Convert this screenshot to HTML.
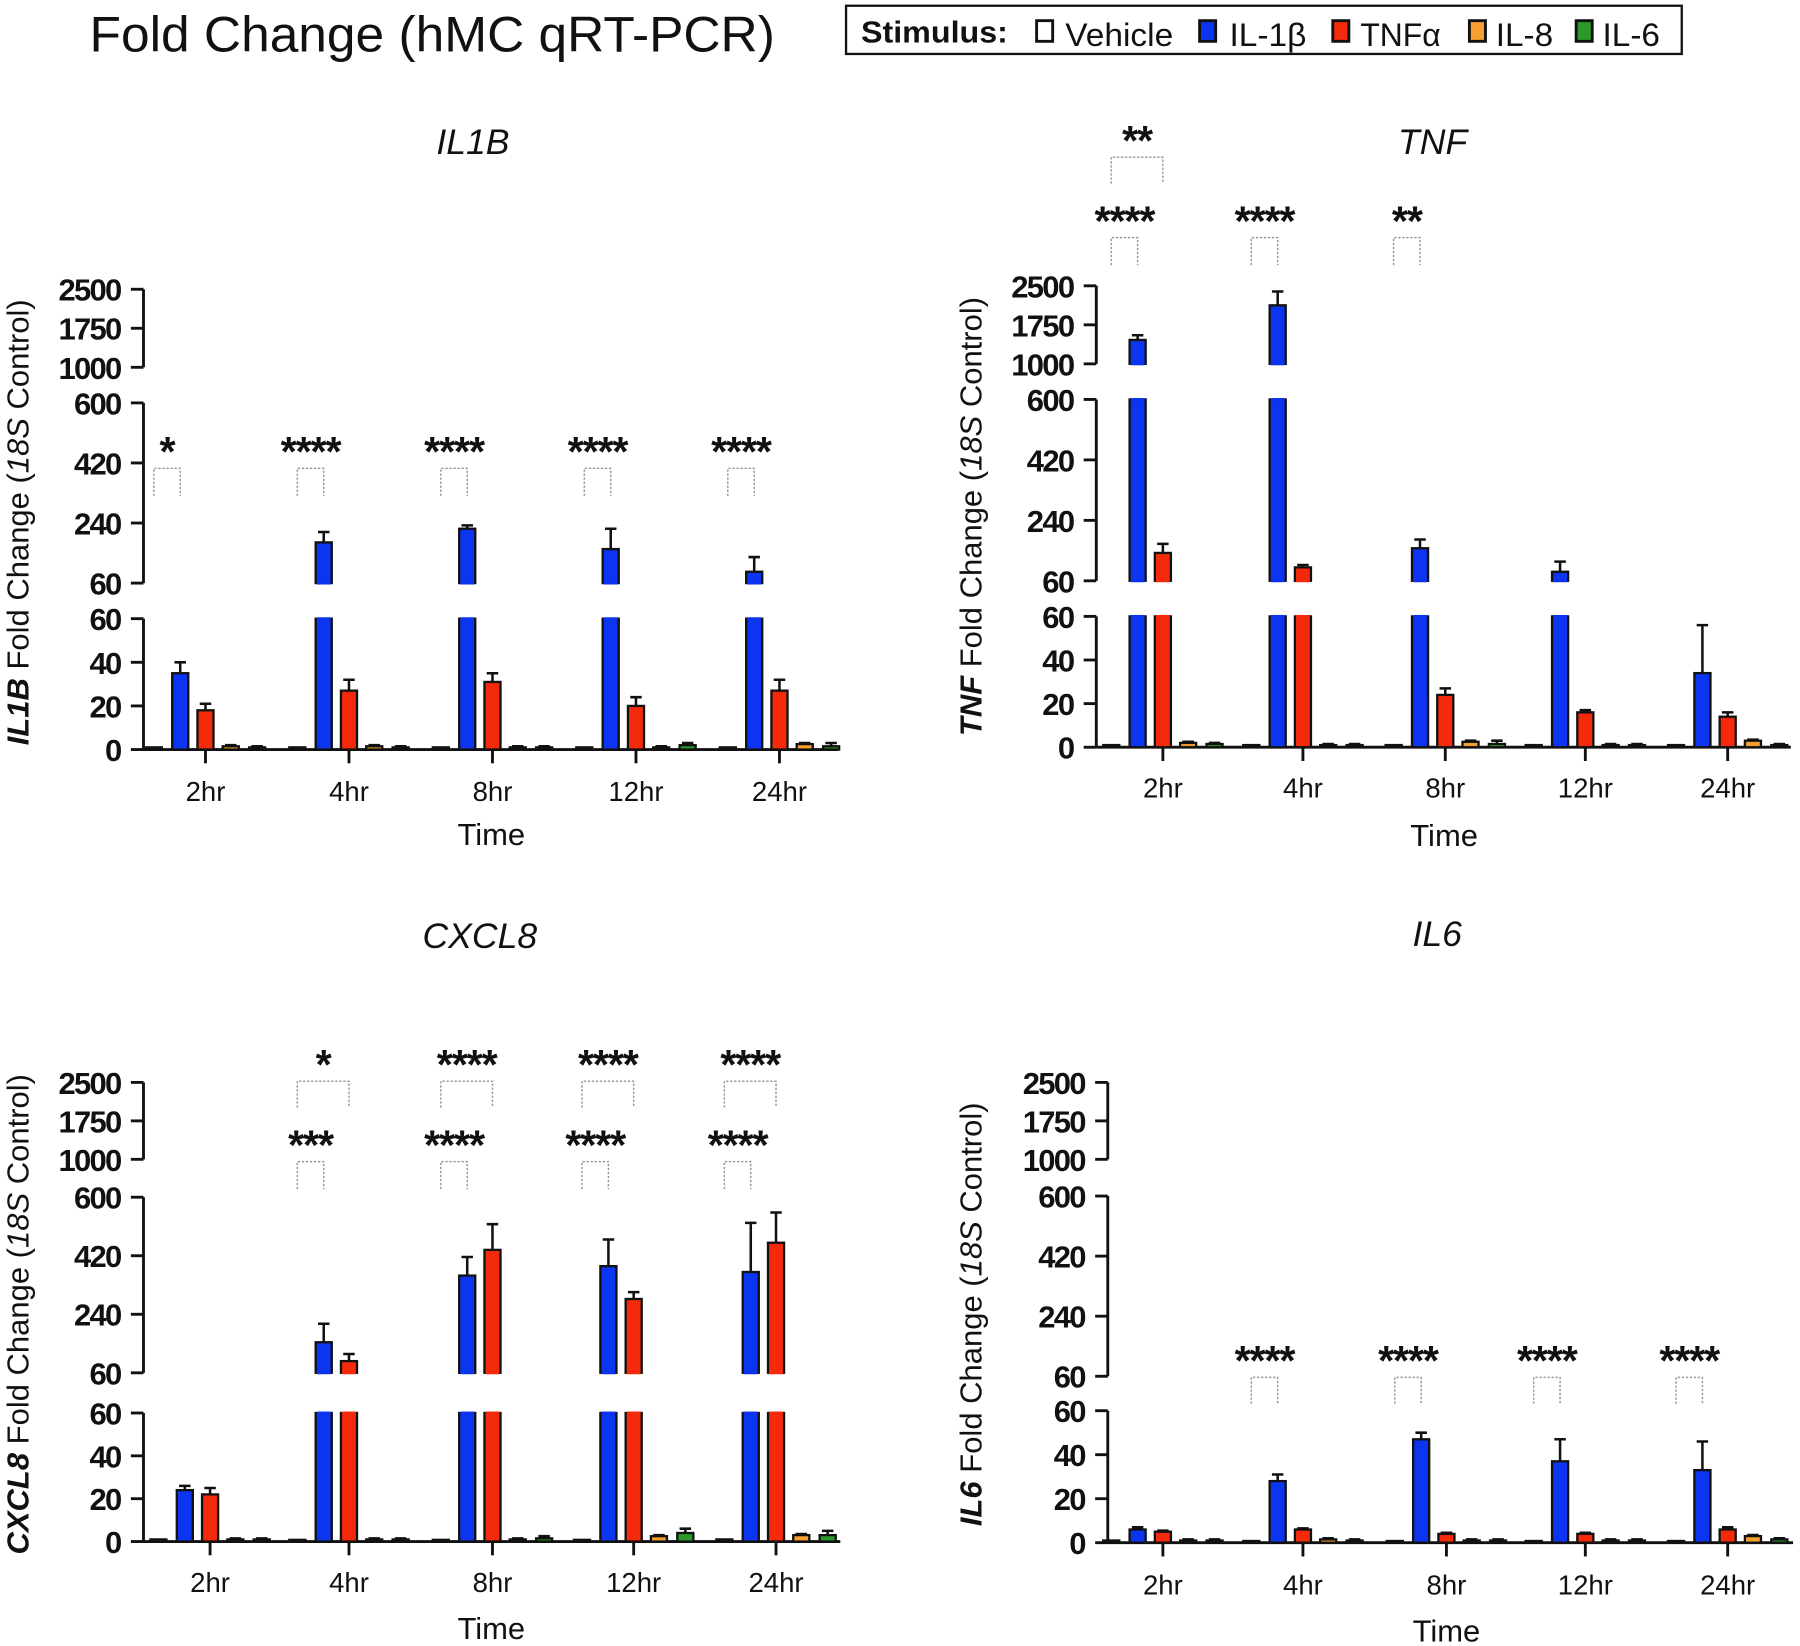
<!DOCTYPE html>
<html><head><meta charset="utf-8"><style>
html,body{margin:0;padding:0;background:#fff;}
svg{display:block;}
text{font-family:"Liberation Sans",Arial,sans-serif;}
</style></head><body>
<svg id="chart" width="1800" height="1646" viewBox="0 0 1568 1434" preserveAspectRatio="none" xmlns="http://www.w3.org/2000/svg">
<text x="78" y="45" font-size="44" fill="#111" textLength="597" lengthAdjust="spacingAndGlyphs">Fold Change (hMC qRT-PCR)</text>
<g>
<rect x="737" y="5" width="728" height="42" fill="#fff" stroke="#111" stroke-width="2"/>
<text x="750" y="37" font-size="27" font-weight="bold" fill="#111" textLength="128" lengthAdjust="spacingAndGlyphs">Stimulus:</text>
<rect x="903" y="18" width="14" height="18" fill="#fff" stroke="#111" stroke-width="2.5"/>
<text x="928" y="40" font-size="28" fill="#111" textLength="94" lengthAdjust="spacingAndGlyphs">Vehicle</text>
<rect x="1045" y="18" width="14" height="18" fill="#0b35f0" stroke="#111" stroke-width="2.5"/>
<text x="1071" y="40" font-size="28" fill="#111" textLength="67" lengthAdjust="spacingAndGlyphs">IL-1β</text>
<rect x="1161" y="18" width="14" height="18" fill="#f52a0a" stroke="#111" stroke-width="2.5"/>
<text x="1185" y="40" font-size="28" fill="#111" textLength="70" lengthAdjust="spacingAndGlyphs">TNFα</text>
<rect x="1280" y="18" width="14" height="18" fill="#f5a030" stroke="#111" stroke-width="2.5"/>
<text x="1303" y="40" font-size="28" fill="#111" textLength="50" lengthAdjust="spacingAndGlyphs">IL-8</text>
<rect x="1373" y="18" width="14" height="18" fill="#2a9a2a" stroke="#111" stroke-width="2.5"/>
<text x="1396" y="40" font-size="28" fill="#111" textLength="50" lengthAdjust="spacingAndGlyphs">IL-6</text>
</g>
</svg>
<script>
const categories = ["2hr","4hr","8hr","12hr","24hr"];
const seriesNames = ["Vehicle","IL-1β","TNFα","IL-8","IL-6"];
const yTickUpper = [1000,1750,2500];
const yTickMid = [60,240,420,600];
const yTickLow = [0,20,40,60];

// IL1B panel
const il1bVehicle = [1,1,1,1,1];
const il1bIL1b = [35,182,223,162,94];
const il1bIL1bErr = [40,213,233,223,138];
const il1bTNFa = [18,27,31,20,27];
const il1bTNFaErr = [21,32,35,24,32];
const il1bIL8 = [1.5,1.5,1,1,2.5];
const il1bIL8Err = [2,2,1.5,1.5,3];
const il1bIL6 = [1,1,1,2,1.5];
const il1bIL6Err = [1.5,1.5,1.5,3,3];

// TNF panel
const tnfVehicle = [1,1,1,1,1];
const tnfIL1b = [1460,2125,157,87,34];
const tnfIL1bErr = [1550,2390,183,117,56];
const tnfTNFa = [143,100,24,16,14];
const tnfTNFaErr = [170,107,27,17,16];
const tnfIL8 = [2,1,2.5,1,3];
const tnfIL8Err = [2.5,1.5,3,1.5,3.5];
const tnfIL6 = [1.5,1,1.5,1,1];
const tnfIL6Err = [2,1.5,3,1.5,1.5];

// CXCL8 panel
const cxclVehicle = [1,0.5,0.5,0.5,1];
const cxclIL1b = [24,154,359,388,370];
const cxclIL1bErr = [26,211,416,470,521];
const cxclTNFa = [22,96,438,287,460];
const cxclTNFaErr = [25,118,517,308,553];
const cxclIL8 = [1,1,1,2.5,3];
const cxclIL8Err = [1.5,1.5,1.5,3,3.5];
const cxclIL6 = [1,1,1.5,4,3];
const cxclIL6Err = [1.5,1.5,2.5,6,5];

// IL6 panel
const il6Vehicle = [1,0.5,0.5,0.5,0.5];
const il6IL1b = [6,28,47,37,33];
const il6IL1bErr = [7,31,50,47,46];
const il6TNFa = [5,6,4,4,6];
const il6TNFaErr = [5.5,6.5,4.5,4.5,7];
const il6IL8 = [1,1.5,1,1,3];
const il6IL8Err = [1.5,2,1.5,1.5,3.5];
const il6IL6 = [1,1,1,1,1.5];
const il6IL6Err = [1.5,1.5,1.5,1.5,2];

const colors = ["#ffffff","#0b35f0","#f52a0a","#f5a030","#2a9a2a"];
const NS = "http://www.w3.org/2000/svg";
const svg = document.getElementById('chart');

function mk(tag, attrs, parent){
  const e = document.createElementNS(NS, tag);
  for (const k in attrs) e.setAttribute(k, attrs[k]);
  (parent||svg).appendChild(e);
  return e;
}

function drawPanel(p){
  const g = mk('g', {});
  
  
  const lowY = v => p.low0 + (p.low60 - p.low0) * v / 60;
  const midY = v => p.mid60 + (p.mid600 - p.mid60) * (v - 60) / 540;
  const upY = v => p.up1000 + (p.up2500 - p.up1000) * (v - 1000) / 1500;
  const yOf = v => v <= 60 ? lowY(v) : (v <= 600 ? midY(v) : upY(v));
  const offsets = [-45,-22,0,22,45];
  const bw = 14;
  const t = mk('text', {x:p.titleX, y:p.titleY, 'font-size':31, 'font-style':'italic', 'text-anchor':'middle', fill:'#111'}, g);
  t.textContent = p.gene;
  
  
  const yt = mk('text', {x:0, y:0, 'font-size':27, 'text-anchor':'middle', fill:'#111', transform:`translate(${p.yTitleX},${p.yTitleY}) rotate(-90)`}, g);
  
  
  const s1 = mk('tspan', {'font-weight':'bold','font-style':'italic'}, yt); s1.textContent = p.gene;
  const s2 = mk('tspan', {}, yt); s2.textContent = ' Fold Change  (';
  const s3 = mk('tspan', {'font-style':'italic'}, yt); s3.textContent = '18S';
  const s4 = mk('tspan', {}, yt); s4.textContent = ' Control)';
  const segs = [[yTickUpper, upY],[yTickMid, midY],[yTickLow, lowY]];
  segs.forEach((sg) => {
    const ticks = sg[0], f = sg[1];
    const ax = mk('line', {x1:p.ax, x2:p.ax, y1:f(ticks[0]), y2:f(ticks[ticks.length-1]), stroke:'#111', 'stroke-width':2.5}, g);
    
    
    ticks.forEach(v => {
      mk('line', {x1:p.ax-11, x2:p.ax, y1:f(v), y2:f(v), stroke:'#111', 'stroke-width':2.5}, g);
      const tl = mk('text', {x:p.ax-20, y:f(v)+10, 'font-size':27, 'font-weight':'bold', 'text-anchor':'end', fill:'#111', 'letter-spacing':'-1.5'}, g);
      tl.textContent = v;
      
      
    });
  });
  const xa = mk('line', {x1:p.ax, x2:p.xEnd, y1:p.low0, y2:p.low0, stroke:'#111', 'stroke-width':2.5}, g);
  
  
  categories.forEach((c, i) => {
    const cx = p.centers[i];
    mk('line', {x1:cx, x2:cx, y1:p.low0, y2:p.low0+12, stroke:'#111', 'stroke-width':2.5}, g);
    const xl = mk('text', {x:cx, y:p.tickLabelY+9, 'font-size':24, 'text-anchor':'middle', fill:'#111'}, g);
    xl.textContent = c;
    
    
  });
  const xt = mk('text', {x:p.timeX, y:p.timeY+10, 'font-size':27, 'text-anchor':'middle', fill:'#111'}, g);
  xt.textContent = 'Time';
  
  
  p.series.forEach((vals, si) => {
    vals.forEach((v, i) => {
      const x = p.centers[i] + offsets[si] - bw/2;
      const parts = [];
      parts.push([p.low0, lowY(Math.min(v,60))]);
      if (v > 60) parts.push([p.mid60, midY(Math.min(v,600))]);
      if (v > 600) parts.push([p.up1000, upY(v)]);
      parts.forEach((pt, k) => {
        const isTop = k === parts.length - 1;
        const h = Math.max(pt[0] - pt[1], 1.5);
        const r = mk('rect', {x:x, y:pt[0]-h, width:bw, height:h, fill:colors[si], stroke:'#111', 'stroke-width':2}, g);
        
        
        if (!isTop) mk('line', {x1:x+1, x2:x+bw-1, y1:pt[1], y2:pt[1], stroke:colors[si], 'stroke-width':2.5}, g);
        if (k > 0) mk('line', {x1:x+1, x2:x+bw-1, y1:pt[0], y2:pt[0], stroke:colors[si], 'stroke-width':2.5}, g);
      });
      const e = p.errs[si][i];
      if (e > v) {
        const ex = p.centers[i] + offsets[si];
        const el = mk('path', {d:`M${ex},${yOf(v)} V${yOf(e)} M${ex-5},${yOf(e)} H${ex+5}`, stroke:'#111', 'stroke-width':2.2, fill:'none'}, g);
        
        
      }
    });
  });
  p.sig.forEach(s => {
    const x1 = p.centers[s.g] + offsets[0], x2 = p.centers[s.g] + offsets[s.to];
    const b = mk('path', {d:`M${x1},${s.bot} V${s.top} H${x2} V${s.bot}`, stroke:'#999', 'stroke-width':1.3, 'stroke-dasharray':'2,1.5', fill:'none'}, g);
    
    
    const st = mk('text', {x:(x1+x2)/2, y:s.top-2, 'font-size':36, 'font-weight':'bold', 'text-anchor':'middle', fill:'#111', 'letter-spacing':'-1'}, g);
    st.textContent = s.text;
    
    
  });
}

drawPanel({name:'il1b', gene:'IL1B', ax:125, xEnd:730, centers:[179,304,429,554,679],
  up1000:320, up2500:252, mid60:508, mid600:351, low0:653, low60:539,
  titleX:412, titleY:134, yTitleX:25, yTitleY:455, tickLabelY:689, timeX:428, timeY:726,
  series:[il1bVehicle,il1bIL1b,il1bTNFa,il1bIL8,il1bIL6], errs:[il1bVehicle,il1bIL1bErr,il1bTNFaErr,il1bIL8Err,il1bIL6Err],
  sig:[{g:0,to:1,top:408,bot:432,text:'*'},{g:1,to:1,top:408,bot:432,text:'****'},{g:2,to:1,top:408,bot:432,text:'****'},{g:3,to:1,top:408,bot:432,text:'****'},{g:4,to:1,top:408,bot:432,text:'****'}]});

drawPanel({name:'tnf', gene:'TNF', ax:955, xEnd:1560, centers:[1013,1135,1259,1381,1505],
  up1000:317, up2500:249, mid60:506, mid600:348, low0:651, low60:537,
  titleX:1248, titleY:134, yTitleX:855, yTitleY:450, tickLabelY:686, timeX:1258, timeY:727,
  series:[tnfVehicle,tnfIL1b,tnfTNFa,tnfIL8,tnfIL6], errs:[tnfVehicle,tnfIL1bErr,tnfTNFaErr,tnfIL8Err,tnfIL6Err],
  sig:[{g:0,to:2,top:137,bot:160,text:'**'},{g:0,to:1,top:207,bot:231,text:'****'},{g:1,to:1,top:207,bot:231,text:'****'},{g:2,to:1,top:207,bot:231,text:'**'}]});

drawPanel({name:'cxcl8', gene:'CXCL8', ax:125, xEnd:732, centers:[183,304,429,552,676],
  up1000:1010, up2500:943, mid60:1196, mid600:1043, low0:1343, low60:1231,
  titleX:418, titleY:826, yTitleX:25, yTitleY:1145, tickLabelY:1378, timeX:428, timeY:1418,
  series:[cxclVehicle,cxclIL1b,cxclTNFa,cxclIL8,cxclIL6], errs:[cxclVehicle,cxclIL1bErr,cxclTNFaErr,cxclIL8Err,cxclIL6Err],
  sig:[{g:1,to:2,top:942,bot:965,text:'*'},{g:2,to:2,top:942,bot:965,text:'****'},{g:3,to:2,top:942,bot:965,text:'****'},{g:4,to:2,top:942,bot:965,text:'****'},
       {g:1,to:1,top:1012,bot:1036,text:'***'},{g:2,to:1,top:1012,bot:1036,text:'****'},{g:3,to:1,top:1012,bot:1036,text:'****'},{g:4,to:1,top:1012,bot:1036,text:'****'}]});

drawPanel({name:'il6', gene:'IL6', ax:965, xEnd:1562, centers:[1013,1135,1260,1381,1505],
  up1000:1010, up2500:943, mid60:1199, mid600:1042, low0:1344, low60:1229,
  titleX:1252, titleY:824, yTitleX:855, yTitleY:1145, tickLabelY:1380, timeX:1260, timeY:1420,
  series:[il6Vehicle,il6IL1b,il6TNFa,il6IL8,il6IL6], errs:[il6Vehicle,il6IL1bErr,il6TNFaErr,il6IL8Err,il6IL6Err],
  sig:[{g:1,to:1,top:1200,bot:1223,text:'****'},{g:2,to:1,top:1200,bot:1223,text:'****'},{g:3,to:1,top:1200,bot:1223,text:'****'},{g:4,to:1,top:1200,bot:1223,text:'****'}]});
</script>
</body></html>
